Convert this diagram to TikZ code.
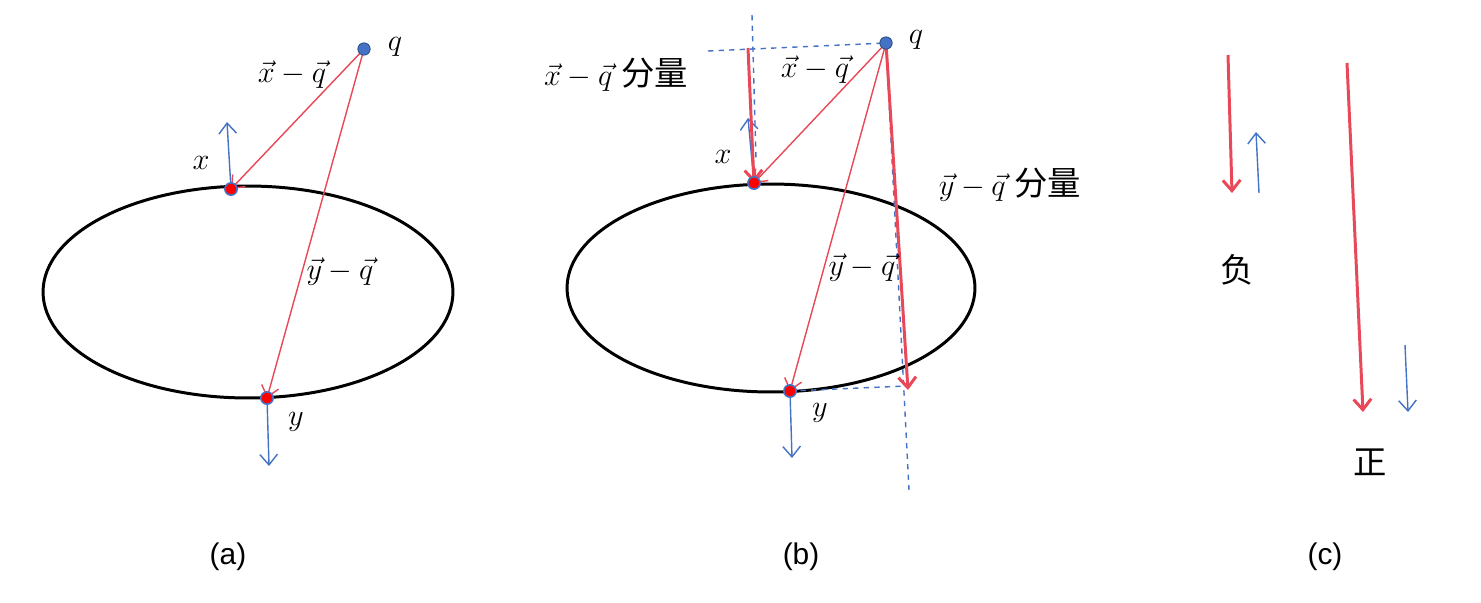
\documentclass[tikz,border=0pt]{standalone}
\usepackage{amsmath}
\usepackage{fontspec}
\setmainfont{Liberation Sans}
\newfontfamily\cjk{Noto Sans CJK SC}
\usetikzlibrary{arrows.meta}
\definecolor{myred}{RGB}{232,72,88}
\definecolor{myblue}{RGB}{68,114,196}
\tikzset{>={Straight Barb[length=6pt,width=10pt]}}
\tikzstyle{rline}=[myred,line width=0.8pt,->]
\tikzstyle{rthick}=[myred,line width=1.7pt,->]
\tikzstyle{bline}=[myblue,line width=0.8pt,->]
\tikzstyle{dline}=[myblue,dashed,line width=0.8pt]
\tikzstyle{orbit}=[black,line width=1.7pt]
\tikzstyle{qdot}=[circle,fill=myblue,draw=myblue!70!black,line width=0.5pt,inner sep=0pt,minimum size=7pt]
\tikzstyle{pdot}=[circle,fill=red,draw=myblue,line width=0.9pt,inner sep=0pt,minimum size=7pt]
\def\mlab#1{{\fontsize{18}{22}\selectfont$#1$}}
\def\clab#1{{\cjk\fontsize{19}{23}\selectfont #1}}
\def\vdiff#1{\vec{#1}-\vec{q}}

\begin{document}
\begin{tikzpicture}[x=0.02cm,y=-0.02cm]
      \useasboundingbox (0,0) rectangle (1481,602);

      % PANEL (a)
      \coordinate (Qa) at (364,49);
      \coordinate (Xa) at (231,189);
      \coordinate (Ya) at (267,398);
      \coordinate (XaUp) at (227,122);
      \coordinate (YaDn) at (269,466);
      \draw[orbit] (248,292) ellipse [x radius=4.1cm, y radius=2.12cm];
      \draw[bline] (Xa) -- (XaUp);
      \draw[bline] (Ya) -- (YaDn);
      \draw[rline] (Qa) -- (Xa);
      \draw[rline] (Qa) -- (Ya);
      \node[qdot] (qa) at (Qa) {};
      \node[pdot] (xa) at (Xa) {};
      \node[pdot] (ya) at (Ya) {};
      \node (qalab) at (395,47) {\mlab{q}};
      \node (xalab) at (201,163) {\mlab{x}};
      \node (yalab) at (296,422) {\mlab{y}};
      \node (xqa) at (292,75) {\mlab{\vdiff{x}}};
      \node (yqa) at (340,272) {\mlab{\vdiff{y}}};
      \node (capa) at (228,557) {\fontsize{17}{20}\selectfont (a)};

      % PANEL (b)
      \coordinate (Qb) at (886,43);
      \coordinate (Xb) at (754,183);
      \coordinate (Yb) at (790,391);
      \coordinate (XbUp) at (748,118);
      \coordinate (YbDn) at (792,458);
      \coordinate (XbTop) at (748,48);
      \coordinate (YbEnd) at (908,390);
      \coordinate (HL) at (708,51);
      \coordinate (VT) at (752,15);
      \coordinate (VB) at (756,160);
      \coordinate (DB) at (909,490);
      \coordinate (YbFoot) at (906,386);
      \draw[orbit] (771,288) ellipse [x radius=4.08cm, y radius=2.08cm];
      \draw[dline] (HL) -- (Qb);
      \draw[dline] (VT) -- (VB);
      \draw[dline] (Qb) -- (DB);
      \draw[dline] (Yb) -- (YbFoot);
      \draw[bline] (Xb) -- (XbUp);
      \draw[bline] (Yb) -- (YbDn);
      \draw[rline] (Qb) -- (Xb);
      \draw[rline] (Qb) -- (Yb);
      \draw[rthick] (XbTop) -- (Xb);
      \draw[rthick] (Qb) -- (YbEnd);
      \node[qdot] (qb) at (Qb) {};
      \node[pdot] (xb) at (Xb) {};
      \node[pdot] (yb) at (Yb) {};
      \node (qblab) at (916,40) {\mlab{q}};
      \node (xblab) at (723,157) {\mlab{x}};
      \node (yblab) at (820,413) {\mlab{y}};
      \node (xqb) at (815,70) {\mlab{\vdiff{x}}};
      \node (yqb) at (862,268) {\mlab{\vdiff{y}}};
      \node (xqcomp) at (616,75) {\mlab{\vdiff{x}}\hspace{5pt}\clab{分量}};
      \node (yqcomp) at (1010,185) {\mlab{\vdiff{y}}\hspace{5pt}\clab{分量}};
      \node (capb) at (801,557) {\fontsize{17}{20}\selectfont (b)};

      % PANEL (c)
      \coordinate (NrA) at (1228,55);
      \coordinate (NrB) at (1232,193);
      \coordinate (NbA) at (1259,193);
      \coordinate (NbB) at (1256,132);
      \coordinate (PrA) at (1347,63);
      \coordinate (PrB) at (1363,412);
      \coordinate (PbA) at (1405,345);
      \coordinate (PbB) at (1408,412);
      \draw[rthick] (NrA) -- (NrB);
      \draw[bline] (NbA) -- (NbB);
      \draw[rthick] (PrA) -- (PrB);
      \draw[bline] (PbA) -- (PbB);
      \node (neg) at (1237,270) {\clab{负}};
      \node (pos) at (1370,462) {\clab{正}};
      \node (capc) at (1325,557) {\fontsize{17}{20}\selectfont (c)};

    \end{tikzpicture}
\end{document}
